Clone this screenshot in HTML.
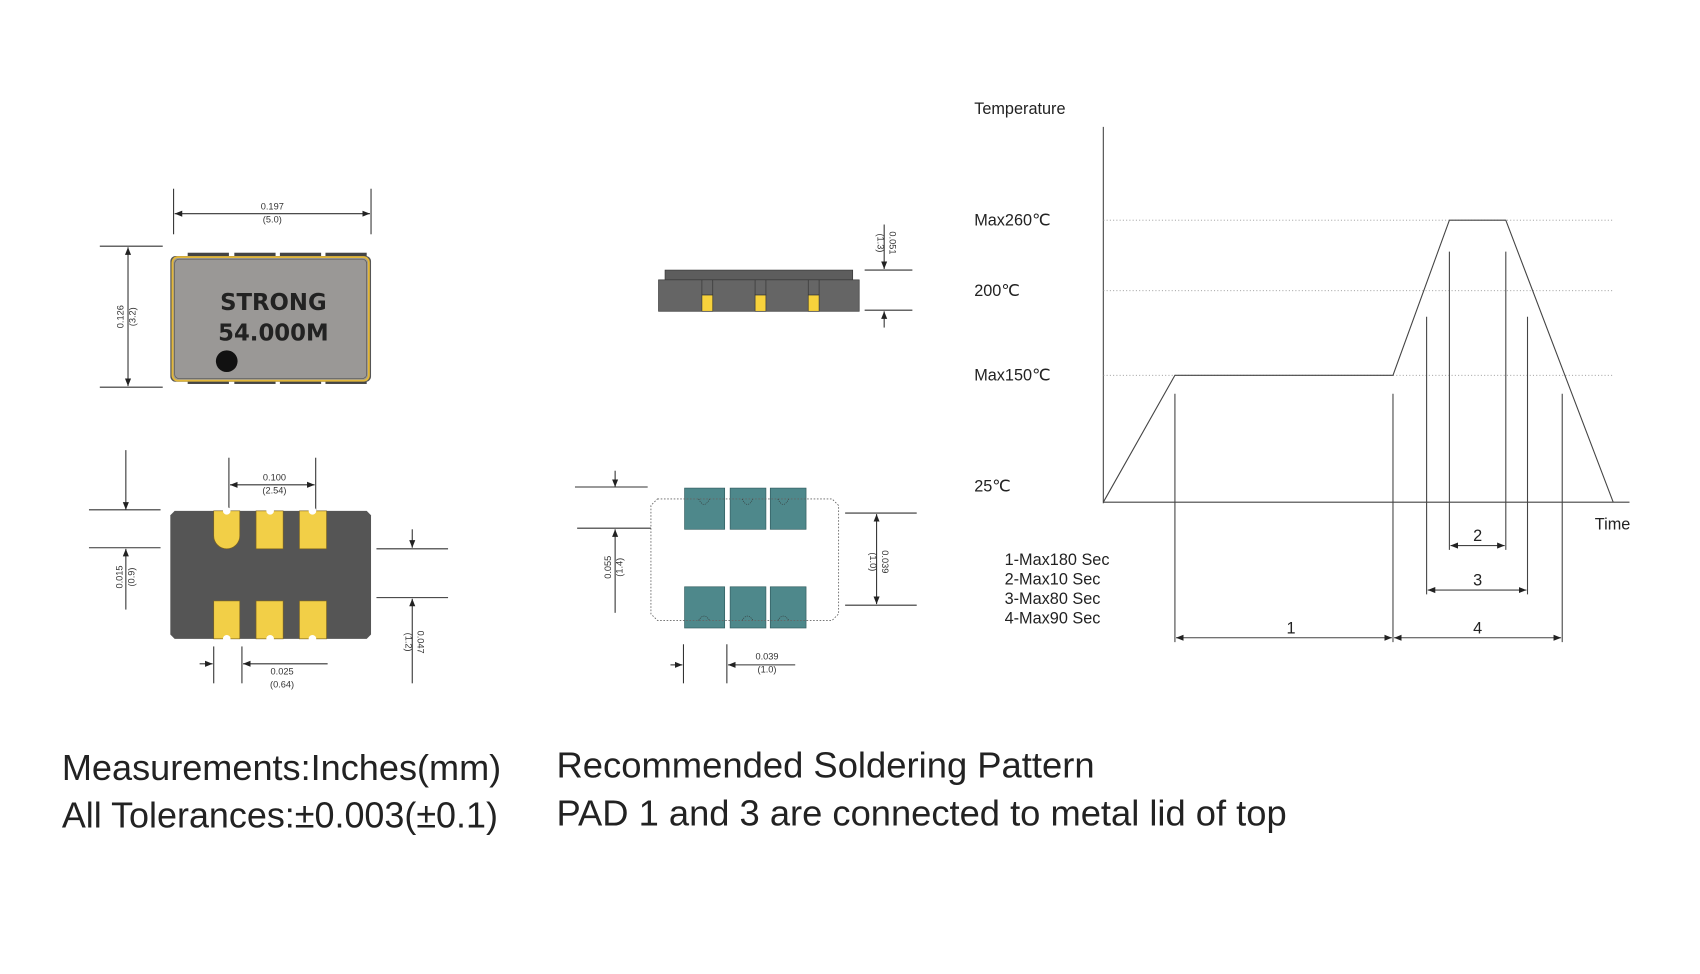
<!DOCTYPE html>
<html><head><meta charset="utf-8"><style>html,body{margin:0;padding:0;background:#fff}svg{display:block}</style></head>
<body>
<svg width="1700" height="974" viewBox="0 0 1567 898" preserveAspectRatio="none" xmlns="http://www.w3.org/2000/svg" font-family="Liberation Sans, sans-serif">
<defs>
<marker id="a" viewBox="0 0 10 10" refX="10" refY="5" markerWidth="7" markerHeight="7" orient="auto-start-reverse"><path d="M0,1 L10,5 L0,9 z" fill="#222"/></marker>
</defs>
<g stroke="#333" stroke-width="1" fill="none">
<line x1="160" y1="174" x2="160" y2="216"/><line x1="342" y1="174" x2="342" y2="216"/>
<line x1="161" y1="197" x2="341" y2="197" marker-start="url(#a)" marker-end="url(#a)"/>
<line x1="92" y1="227" x2="150" y2="227"/><line x1="92" y1="357" x2="150" y2="357"/>
<line x1="118" y1="228" x2="118" y2="356" marker-start="url(#a)" marker-end="url(#a)"/>
<line x1="116" y1="415" x2="116" y2="470" marker-end="url(#a)"/>
<line x1="82" y1="470" x2="148" y2="470"/><line x1="82" y1="505" x2="148" y2="505"/>
<line x1="116" y1="562" x2="116" y2="506" marker-end="url(#a)"/>
<line x1="211" y1="422" x2="211" y2="470"/><line x1="291" y1="422" x2="291" y2="470"/>
<line x1="212" y1="447" x2="290" y2="447" marker-start="url(#a)" marker-end="url(#a)"/>
<line x1="347" y1="506" x2="413" y2="506"/><line x1="347" y1="551" x2="413" y2="551"/>
<line x1="380" y1="488" x2="380" y2="505" marker-end="url(#a)"/>
<line x1="380" y1="630" x2="380" y2="552" marker-end="url(#a)"/>
<line x1="197" y1="596" x2="197" y2="630"/><line x1="223" y1="596" x2="223" y2="630"/>
<line x1="184" y1="612" x2="196" y2="612" marker-end="url(#a)"/>
<line x1="302" y1="612" x2="224" y2="612" marker-end="url(#a)"/>
<line x1="815" y1="207" x2="815" y2="248" marker-end="url(#a)"/>
<line x1="797" y1="249" x2="841" y2="249"/><line x1="797" y1="286" x2="841" y2="286"/>
<line x1="815" y1="302" x2="815" y2="287" marker-end="url(#a)"/>
<line x1="567" y1="434" x2="567" y2="449" marker-end="url(#a)"/>
<line x1="530" y1="449" x2="597" y2="449"/><line x1="532" y1="487" x2="600" y2="487"/>
<line x1="567" y1="565" x2="567" y2="488" marker-end="url(#a)"/>
<line x1="779" y1="473" x2="845" y2="473"/><line x1="779" y1="558" x2="845" y2="558"/>
<line x1="808" y1="474" x2="808" y2="557" marker-start="url(#a)" marker-end="url(#a)"/>
<line x1="630" y1="594" x2="630" y2="630"/><line x1="670" y1="594" x2="670" y2="630"/>
<line x1="618" y1="613" x2="629" y2="613" marker-end="url(#a)"/>
<line x1="733" y1="613" x2="671" y2="613" marker-end="url(#a)"/>
</g>
<g font-size="8.5" fill="#333" text-anchor="middle">
<text x="251" y="193">0.197</text><text x="251" y="205">(5.0)</text>
<text transform="translate(114,292) rotate(-90)">0.126</text><text transform="translate(125,292) rotate(-90)">(3.2)</text>
<text x="253" y="443">0.100</text><text x="253" y="455">(2.54)</text>
<text transform="translate(113,532) rotate(-90)">0.015</text><text transform="translate(124,532) rotate(-90)">(0.9)</text>
<text transform="translate(385,592) rotate(90)">0.047</text><text transform="translate(374,592) rotate(90)">(1.2)</text>
<text x="260" y="622">0.025</text><text x="260" y="634">(0.64)</text>
<text transform="translate(820,224) rotate(90)">0.051</text><text transform="translate(809,224) rotate(90)">(1.3)</text>
<text transform="translate(563,523) rotate(-90)">0.055</text><text transform="translate(574,523) rotate(-90)">(1.4)</text>
<text transform="translate(813,518) rotate(90)">0.039</text><text transform="translate(802,518) rotate(90)">(1.0)</text>
<text x="707" y="608">0.039</text><text x="707" y="620">(1.0)</text>
</g>
<g fill="#444"><rect x="173" y="233" width="38" height="4"/><rect x="216" y="233" width="38" height="4"/><rect x="258" y="233" width="38" height="4"/><rect x="300" y="233" width="38" height="4"/>
<rect x="173" y="350" width="38" height="4"/><rect x="216" y="350" width="38" height="4"/><rect x="258" y="350" width="38" height="4"/><rect x="300" y="350" width="38" height="4"/></g>
<rect x="157" y="236" width="185" height="116" rx="5" fill="#555"/>
<rect x="159" y="237" width="181" height="114" rx="5" fill="#9a9896" stroke="#e2b73a" stroke-width="1.8"/>
<rect x="161" y="239" width="177" height="110" rx="4" fill="none" stroke="#555" stroke-width="0.6"/>
<text x="252" y="286" font-size="21" font-weight="bold" fill="#222" text-anchor="middle" font-family="DejaVu Sans, sans-serif">STRONG</text>
<text x="252" y="314" font-size="21" font-weight="bold" fill="#222" text-anchor="middle" font-family="DejaVu Sans, sans-serif">54.000M</text>
<circle cx="209" cy="333" r="10" fill="#111"/>
<path d="M161,471 H338 L342,475 V585 L338,589 H161 L157,585 V475 Z" fill="#555"/>
<g fill="#f2cf47" stroke="#7a6220" stroke-width="0.6">
<path d="M197,471 H221 V494 A12,12 0 0 1 197,494 Z"/>
<rect x="236" y="471" width="25" height="35"/><rect x="276" y="471" width="25" height="35"/>
<rect x="197" y="554" width="24" height="35"/><rect x="236" y="554" width="25" height="35"/><rect x="276" y="554" width="25" height="35"/>
</g>
<g fill="#fff"><circle cx="209" cy="471" r="3.5"/><circle cx="249" cy="471" r="3.5"/><circle cx="288" cy="471" r="3.5"/>
<circle cx="209" cy="589" r="3.5"/><circle cx="249" cy="589" r="3.5"/><circle cx="288" cy="589" r="3.5"/></g>
<rect x="613" y="249" width="173" height="9" fill="#5d5d5d" stroke="#333" stroke-width="0.6"/>
<rect x="607" y="258" width="185" height="29" fill="#656565" stroke="#333" stroke-width="0.6"/>
<g stroke="#333" stroke-width="0.6"><rect x="647" y="258" width="10" height="14" fill="#666"/><rect x="696" y="258" width="10" height="14" fill="#666"/><rect x="745" y="258" width="10" height="14" fill="#666"/>
<rect x="647" y="272" width="10" height="15" fill="#f7d23c"/><rect x="696" y="272" width="10" height="15" fill="#f7d23c"/><rect x="745" y="272" width="10" height="15" fill="#f7d23c"/></g>
<g fill="#4e888b" stroke="#2f5a5c" stroke-width="0.6">
<rect x="631" y="450" width="37" height="38"/><rect x="673" y="450" width="33" height="38"/><rect x="710" y="450" width="33" height="38"/>
<rect x="631" y="541" width="37" height="38"/><rect x="673" y="541" width="33" height="38"/><rect x="710" y="541" width="33" height="38"/>
</g>
<path d="M606,460 H767 L773,466 V566 L767,572 H606 L600,566 V466 Z" fill="none" stroke="#666" stroke-width="0.8" stroke-dasharray="1.5,1.5"/>
<g fill="none" stroke="#333" stroke-width="0.6" stroke-dasharray="1,1">
<path d="M644,460 q5,10 10,0 M684,460 q5,10 10,0 M717,460 q5,10 10,0 M644,572 q5,-8 10,0 M684,572 q5,-8 10,0 M717,572 q5,-8 10,0"/></g>
<line x1="1017" y1="117" x2="1017" y2="464" stroke="#444"/>
<line x1="1017" y1="463" x2="1502" y2="463" stroke="#444"/>
<g stroke="#999" stroke-width="0.8" stroke-dasharray="1,2"><line x1="1017" y1="203" x2="1488" y2="203"/><line x1="1017" y1="268" x2="1488" y2="268"/><line x1="1017" y1="346" x2="1488" y2="346"/></g>
<polyline points="1017,463 1083,346 1284,346 1336,203 1388,203 1487,463" fill="none" stroke="#444"/>
<g stroke="#444">
<line x1="1083" y1="363" x2="1083" y2="592"/><line x1="1284" y1="363" x2="1284" y2="592"/><line x1="1440" y1="363" x2="1440" y2="592"/>
<line x1="1336" y1="232" x2="1336" y2="507"/><line x1="1388" y1="232" x2="1388" y2="507"/>
<line x1="1315" y1="292" x2="1315" y2="548"/><line x1="1408" y1="292" x2="1408" y2="548"/>
<line x1="1337" y1="503" x2="1387" y2="503" marker-start="url(#a)" marker-end="url(#a)"/>
<line x1="1316" y1="544" x2="1407" y2="544" marker-start="url(#a)" marker-end="url(#a)"/>
<line x1="1084" y1="588" x2="1283" y2="588" marker-start="url(#a)" marker-end="url(#a)"/>
<line x1="1285" y1="588" x2="1439" y2="588" marker-start="url(#a)" marker-end="url(#a)"/>
</g>
<g font-size="15" fill="#222">
<text x="898" y="105">Temperature</text>
<text x="898" y="208">Max260℃</text><text x="898" y="273">200℃</text><text x="898" y="351">Max150℃</text><text x="898" y="453">25℃</text>
<text x="1470" y="488">Time</text>
<text x="1362" y="499" text-anchor="middle">2</text><text x="1362" y="540" text-anchor="middle">3</text>
<text x="1190" y="584" text-anchor="middle">1</text><text x="1362" y="584" text-anchor="middle">4</text>
<text x="926" y="521">1-Max180 Sec</text><text x="926" y="539">2-Max10 Sec</text><text x="926" y="557">3-Max80 Sec</text><text x="926" y="575">4-Max90 Sec</text>
</g>
<g font-size="33" fill="#222">
<text x="57" y="719" textLength="405" lengthAdjust="spacingAndGlyphs">Measurements:Inches(mm)</text>
<text x="57" y="763" textLength="402" lengthAdjust="spacingAndGlyphs">All Tolerances:±0.003(±0.1)</text>
<text x="513" y="717" textLength="496" lengthAdjust="spacingAndGlyphs">Recommended Soldering Pattern</text>
<text x="513" y="761" textLength="673" lengthAdjust="spacingAndGlyphs">PAD 1 and 3 are connected to metal lid of top</text>
</g>
</svg>
</body></html>
